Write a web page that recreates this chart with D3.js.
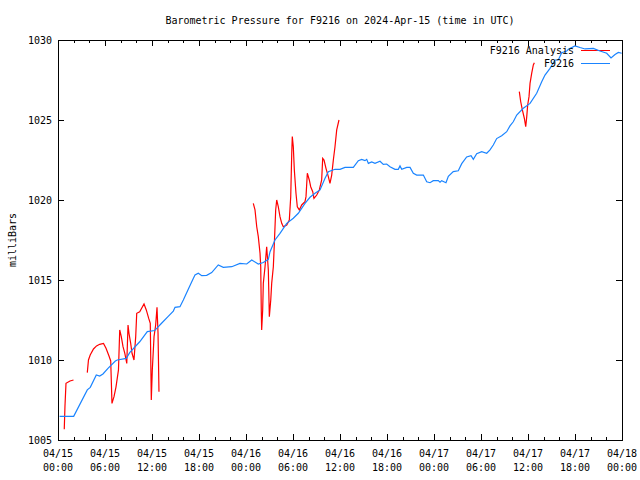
<!DOCTYPE html>
<html>
<head>
<meta charset="utf-8">
<script src="https://cdn.jsdelivr.net/npm/d3@7"></script>
<style>
  html, body { margin: 0; padding: 0; background: #fff; }
  svg { display: block; }
  text { font-family: "DejaVu Sans Mono", "Liberation Mono", monospace; font-size: 10px; fill: #000; }
</style>
</head>
<body>
<svg id="chart" width="640" height="480"></svg>
<script>
// ---- Data (hours since 2024-04-15 00:00 UTC) ----
const titleText = "Barometric Pressure for F9216 on 2024-Apr-15 (time in UTC)";
const yLabel = "milliBars";
const seriesNames = ["F9216 Analysis", "F9216"];
const seriesColors = ["#ff0000", "#1a84ff"];

const yTicks = [1005, 1010, 1015, 1020, 1025, 1030];
const xTickHours = [0, 6, 12, 18, 24, 30, 36, 42, 48, 54, 60, 66, 72];
const xTickDates = ["04/15","04/15","04/15","04/15","04/16","04/16","04/16","04/16","04/17","04/17","04/17","04/17","04/18"];
const xTickTimes = ["00:00","06:00","12:00","18:00","00:00","06:00","12:00","18:00","00:00","06:00","12:00","18:00","00:00"];

// F9216 (blue)
const stationHours = [0.2,2.0,3.74,4.12,4.89,5.32,5.74,6.38,7.32,7.57,8.72,9.15,10.43,11.4,12.34,13.19,14.04,14.72,14.94,15.57,16.0,16.63,17.27,17.49,17.91,18.35,18.98,19.62,20.46,21.1,22.18,23.23,24.09,24.73,25.57,26.21,26.85,27.07,27.7,28.34,29.2,30.04,30.68,31.53,32.17,32.81,33.45,34.09,34.51,35.36,36.0,36.64,37.28,37.7,38.34,38.77,39.19,39.41,39.62,40.05,40.47,41.11,41.53,41.96,42.38,43.02,43.44,43.66,43.88,44.52,44.94,45.36,45.79,46.64,47.07,47.49,47.91,48.55,48.77,48.98,49.53,49.83,50.46,51.1,51.54,52.17,52.73,53.02,53.45,54.09,54.73,55.15,55.57,56.0,56.64,57.28,57.7,58.12,58.56,59.4,60.26,61.11,61.75,62.17,62.81,63.45,63.87,64.3,64.94,65.15,66.0,66.64,67.28,68.34,69.19,70.05,70.6,71.11,71.53,71.96];
const stationValues = [1006.48,1006.48,1008.13,1008.29,1009.06,1009.0,1009.13,1009.48,1009.94,1010.0,1010.1,1010.46,1011.14,1011.77,1011.84,1012.28,1012.71,1013.06,1013.29,1013.33,1013.75,1014.42,1015.1,1015.31,1015.42,1015.27,1015.29,1015.46,1015.94,1015.79,1015.83,1016.04,1016.0,1016.25,1016.0,1016.09,1016.29,1016.77,1017.5,1017.92,1018.54,1018.86,1019.17,1019.79,1020.17,1020.42,1020.63,1021.36,1021.77,1021.92,1021.92,1022.04,1022.04,1022.04,1022.46,1022.54,1022.46,1022.54,1022.29,1022.38,1022.29,1022.42,1022.23,1022.25,1022.08,1021.92,1021.92,1022.13,1021.92,1022.04,1022.04,1021.67,1021.56,1021.56,1021.14,1021.08,1021.21,1021.21,1021.11,1021.21,1021.08,1021.48,1021.77,1021.83,1022.27,1022.69,1022.77,1022.54,1022.89,1023.02,1022.92,1023.13,1023.44,1023.84,1024.02,1024.27,1024.63,1024.89,1025.31,1025.73,1026.04,1026.67,1027.39,1027.81,1028.23,1028.75,1028.75,1029.21,1029.31,1029.42,1029.63,1029.53,1029.44,1029.47,1029.31,1029.17,1028.88,1029.09,1029.22,1029.17];

// F9216 Analysis (red), null = gap
const analysisHours = [0.80,0.89,1.02,1.53,1.98, null,
  3.74,3.89,4.11,4.53,4.92,5.32,5.81,6.13,6.51,6.73,6.89,7.15,7.4,7.72,7.88,8.08,8.3,8.53,8.78,8.94,9.06,9.28,9.45,9.7,9.92,10.05,10.43,10.98,11.27,11.58,11.78,11.91,12.04,12.26,12.47,12.64,12.77,12.89, null,
  24.93,25.15,25.37,25.57,25.79,25.88,25.95,26.0,26.13,26.21,26.43,26.64,26.85,26.98,27.16,27.28,27.49,27.62,27.79,27.92,28.12,28.34,28.56,28.76,29.2,29.53,29.71,29.84,29.91,30.04,30.17,30.38,30.55,30.81,31.11,31.53,31.66,31.83,32.08,32.26,32.52,32.68,33.03,33.36,33.66,33.79,33.96,34.21,34.51,34.72,34.94,35.15,35.36,35.58,35.87, null,
  58.89,59.07,59.28,59.53,59.71,59.84,59.96,60.13,60.26,60.47,60.68,60.81];
const analysisValues = [1005.67,1007.13,1008.54,1008.69,1008.75, null,
  1009.21,1010.0,1010.31,1010.69,1010.88,1010.98,1011.04,1010.73,1010.25,1009.94,1007.29,1007.71,1008.31,1009.38,1011.88,1011.46,1010.83,1010.42,1009.79,1012.19,1011.67,1011.04,1010.42,1010.0,1011.46,1012.92,1013.02,1013.5,1013.13,1012.6,1012.29,1007.5,1009.38,1011.46,1012.19,1013.29,1011.67,1008.02, null,
  1019.79,1019.38,1018.33,1017.71,1016.67,1015.83,1013.13,1011.88,1013.13,1014.79,1015.83,1017.08,1015.63,1012.71,1013.75,1014.79,1015.83,1017.29,1019.38,1020.0,1019.58,1018.96,1018.54,1018.33,1018.44,1018.75,1020.21,1022.92,1023.96,1023.33,1021.88,1020.42,1019.58,1019.38,1019.69,1019.9,1020.21,1021.67,1021.25,1020.83,1020.52,1020.1,1020.31,1020.63,1021.25,1022.6,1022.5,1021.98,1021.46,1021.04,1021.56,1022.5,1023.33,1024.38,1025.0, null,
  1026.77,1026.14,1025.63,1025.11,1024.58,1025.21,1025.94,1026.46,1027.29,1027.92,1028.44,1028.58];

// ---- Layout ----
const svg = d3.select("#chart");
const L = 58, R = 622, T = 40, B = 440;
const x = d3.scaleLinear().domain([0, 72]).range([L, R]);
const y = d3.scaleLinear().domain([1005, 1030]).range([B, T]);

// Title
svg.append("text").attr("x", 340).attr("y", 23.5).attr("text-anchor", "middle").text(titleText);

// Y label
svg.append("text").attr("transform", "translate(15.5,240) rotate(-90)")
  .attr("text-anchor", "middle").text(yLabel);

const g = svg.append("g").attr("shape-rendering", "crispEdges");

// Minor ticks (every 2 h) and major ticks (every 6 h) on bottom and top
const minorHours = d3.range(0, 73, 2).filter(h => h % 6 !== 0);
const tickColor = "#000";
minorHours.forEach(h => {
  const px = Math.round(x(h)) + 0.5;
  g.append("line").attr("x1", px).attr("x2", px).attr("y1", B).attr("y2", B - 3).attr("stroke", tickColor);
  g.append("line").attr("x1", px).attr("x2", px).attr("y1", T).attr("y2", T + 3).attr("stroke", tickColor);
});
xTickHours.forEach((h, i) => {
  const px = Math.round(x(h)) + 0.5;
  g.append("line").attr("x1", px).attr("x2", px).attr("y1", B).attr("y2", B - 6).attr("stroke", tickColor);
  g.append("line").attr("x1", px).attr("x2", px).attr("y1", T).attr("y2", T + 6).attr("stroke", tickColor);
  svg.append("text").attr("x", x(h)).attr("y", 457).attr("text-anchor", "middle").text(xTickDates[i]);
  svg.append("text").attr("x", x(h)).attr("y", 471).attr("text-anchor", "middle").text(xTickTimes[i]);
});
yTicks.forEach(v => {
  const py = Math.round(y(v)) + 0.5;
  g.append("line").attr("x1", L).attr("x2", L + 6).attr("y1", py).attr("y2", py).attr("stroke", tickColor);
  g.append("line").attr("x1", R).attr("x2", R - 6).attr("y1", py).attr("y2", py).attr("stroke", tickColor);
  svg.append("text").attr("x", 52).attr("y", y(v) + 3.5).attr("text-anchor", "end").text(String(v));
});

// Data lines
const lineGen = d3.line()
  .defined(d => d[0] !== null && d[1] !== null)
  .x(d => x(d[0])).y(d => y(d[1]));

const analysisData = analysisHours.map((h, i) => [h, analysisValues[i]]);
const stationData = stationHours.map((h, i) => [h, stationValues[i]]);

svg.append("path").datum(analysisData).attr("d", lineGen)
  .attr("fill", "none").attr("stroke", seriesColors[0]).attr("stroke-width", 1.2);
svg.append("path").datum(stationData).attr("d", lineGen)
  .attr("fill", "none").attr("stroke", seriesColors[1]).attr("stroke-width", 1.2);

// Frame
g.append("rect").attr("x", L + 0.5).attr("y", T + 0.5).attr("width", R - L).attr("height", B - T)
  .attr("fill", "none").attr("stroke", "#000");

// Legend
seriesNames.forEach((name, i) => {
  const ly = 50 + i * 13;
  svg.append("text").attr("x", 574).attr("y", ly + 3.5).attr("text-anchor", "end").text(name);
  g.append("line").attr("x1", 581).attr("x2", 610).attr("y1", ly + 0.5).attr("y2", ly + 0.5)
    .attr("stroke", seriesColors[i]).attr("stroke-width", 1);
});
</script>
</body>
</html>
